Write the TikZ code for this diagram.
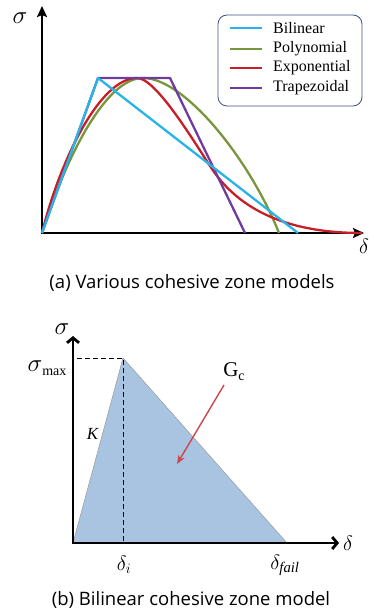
\documentclass[tikz,border=0pt]{standalone}
\usepackage{fontspec}
\setmainfont{Liberation Serif}
\newfontfamily\capfont{Open Sans}
\usetikzlibrary{arrows.meta}
\definecolor{cblue}{RGB}{40,180,230}
\definecolor{cgreen}{RGB}{120,150,60}
\definecolor{cred}{RGB}{200,30,40}
\definecolor{cpurple}{RGB}{110,60,160}
\definecolor{fillblue}{RGB}{168,196,224}
\definecolor{legborder}{RGB}{60,80,130}
\definecolor{arrred}{RGB}{205,70,75}
\begin{document}
\begin{tikzpicture}[x=1pt,y=-1pt,
  axis/.style={line width=2.8pt,{Stealth[length=11pt,width=10pt,inset=2pt]}-{Stealth[length=11pt,width=10pt,inset=2pt]}},
  axisb/.style={line width=2.8pt,line join=miter,{Straight Barb[length=5pt,width=12pt]}-{Straight Barb[length=5pt,width=12pt]}},
  curve/.style={line width=2.3pt,line join=round},
  legtext/.style={font=\fontsize{16}{16}\selectfont,anchor=west,inner sep=0pt},
  caption/.style={font=\capfont\fontsize{18.5}{19}\selectfont,inner sep=0pt},
  lab/.style={inner sep=0pt}]
\useasboundingbox (0,0) rectangle (374,612);

% ---------- top chart ----------
\coordinate (O1) at (42,233);
\coordinate (Y1) at (42,6);
\coordinate (X1) at (364,233);
\draw[axis] (Y1) -- (O1) -- (X1);
\node[lab] (sig1) at (20,18) {\fontsize{23}{23}\selectfont$\sigma$};
\node[lab] (del1) at (364,246) {\fontsize{21}{21}\selectfont$\delta$};

% curves
\coordinate (Gp) at (143,78);
\coordinate (Ge) at (279,233);
\draw[curve,cgreen] (O1) .. controls (65,160) and (105,78) .. (Gp)
   .. controls (185,78) and (250,160) .. (Ge);
\coordinate (Rp) at (137,78);
\coordinate (Ri) at (210,166);
\coordinate (Re) at (362,233);
\draw[curve,cred] (O1) .. controls (60,160) and (100,78) .. (Rp)
   .. controls (155,78) and (190,135) .. (Ri)
   .. controls (235,205) and (280,233) .. (Re);
\draw[curve,cpurple] (O1) -- (98,78) -- (170,78) -- (245,233);
\draw[curve,cblue] (O1) -- (98,78) -- (298,233);

% legend
\node[draw=legborder,rounded corners=9pt,line width=0.8pt,minimum width=144pt,minimum height=91pt,inner sep=0pt] (legend) at (290,60.5) {};
\foreach \y/\c/\t [count=\i] in {28/cblue/Bilinear,49/cgreen/Polynomial,68/cred/Exponential,88/cpurple/Trapezoidal}{
  \coordinate (la\i) at (230,\y);
  \coordinate (lb\i) at (262,\y);
  \draw[curve,\c] (la\i) -- (lb\i);
  \node[legtext] (lt\i) at (273,\y) {\t};
}

\node[caption] (capa) at (192,283) {(a) Various cohesive zone models};

% ---------- bottom chart ----------
\coordinate (O2) at (73,543);
\coordinate (Y2) at (73,336);
\coordinate (X2) at (339,543);
\coordinate (P) at (123,358);
\coordinate (F) at (287,543);
\coordinate (Pb) at (123,543);
\coordinate (Pl) at (77,358);
\filldraw[fill=fillblue,draw=gray!80,line width=0.5pt] (O2) -- (P) -- (F) -- cycle;
\draw[line width=1pt,dash pattern=on 5pt off 3pt] (Pl) -- (P) -- (Pb);
\draw[axisb] (Y2) -- (O2) -- (X2);

\node[lab] (sig2) at (62,329) {\fontsize{23}{23}\selectfont$\sigma$};
\node[lab] (del2) at (348,543) {\fontsize{21}{21}\selectfont$\delta$};
\node[lab] (smax) at (47,368) {\fontsize{23}{23}\selectfont$\sigma$\fontsize{14}{14}\selectfont\raisebox{-4pt}{max}};
\node[lab] (K) at (93,434) {\fontsize{17}{17}\selectfont\textit{K}};
\node[lab] (Gc) at (234,372) {\fontsize{21}{21}\selectfont G\raisebox{-4pt}{\fontsize{14}{14}\selectfont c}};
\coordinate (ga) at (224,385);
\coordinate (gb) at (177,464);
\draw[arrred,line width=1.4pt,-{Stealth[length=9pt,width=7pt]}] (ga) -- (gb);
\node[lab] (di) at (124,565) {\fontsize{21}{21}\selectfont$\delta_{i}$};
\node[lab] (df) at (285,565) {\fontsize{21}{21}\selectfont$\delta_{\mathit{fail}}$};

\node[caption] (capb) at (191,600) {(b) Bilinear cohesive zone model};
\end{tikzpicture}
\end{document}
